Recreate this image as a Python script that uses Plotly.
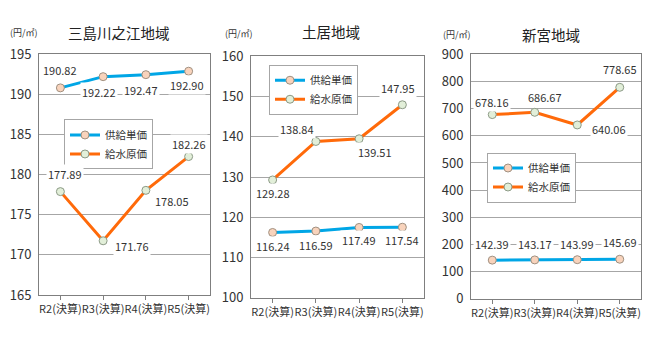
import plotly.graph_objects as go

categories = ["R2(決算)", "R3(決算)", "R4(決算)", "R5(決算)"]
series_names = ["供給単価", "給水原価"]

titles = ["三島川之江地域", "土居地域", "新宮地域"]
unit_label = "(円/㎡)"

# panel 1: 三島川之江地域
p1_supply = [190.82, 192.22, 192.47, 192.90]
p1_cost = [177.89, 171.76, 178.05, 182.26]
# panel 2: 土居地域
p2_supply = [116.24, 116.59, 117.49, 117.54]
p2_cost = [129.28, 138.84, 139.51, 147.95]
# panel 3: 新宮地域
p3_supply = [142.39, 143.17, 143.99, 145.69]
p3_cost = [678.16, 686.67, 640.06, 778.65]

y_ranges = [(165, 195, 5), (100, 160, 10), (0, 900, 100)]

# label offsets in pixels (xshift, yshift) -- style only
p1_supply_off = [(0, 18), (-4, -15), (-5, -15), (-2, -14)]
p1_cost_off = [(5, 18), (29, -5), (26, -11), (0, 13)]
p2_supply_off = [(0, -14), (0, -14), (0, -13), (0, -13)]
p2_cost_off = [(0, -13), (-19, 12), (16, -13), (-4, 17)]
p3_supply_off = [(0, 16), (0, 16), (0, 16), (0, 17)]
p3_cost_off = [(0, 13), (10, 15), (32, -4), (0, 18)]

W, H = 649, 338
FONT = "Noto Sans CJK JP, Noto Sans, sans-serif"
BLUE = "#00A6E6"
ORANGE = "#FF6A0A"

panels = [
    dict(supply=p1_supply, cost=p1_cost, soff=p1_supply_off, coff=p1_cost_off,
         xd=(39, 210), yd=(47, 302), leg=(64, 116), title_x=119, title_y=24, unit_x=24, unit_y=24),
    dict(supply=p2_supply, cost=p2_cost, soff=p2_supply_off, coff=p2_cost_off,
         xd=(251, 424), yd=(49, 305), leg=(269, 58), title_x=331, title_y=23, unit_x=239, unit_y=25),
    dict(supply=p3_supply, cost=p3_cost, soff=p3_supply_off, coff=p3_cost_off,
         xd=(471, 641), yd=(47, 306), leg=(487, 151), title_x=551, title_y=26, unit_x=457, unit_y=26),
]

fig = go.Figure()
annotations = []
layout = dict(
    width=W, height=H, margin=dict(l=0, r=0, t=0, b=0),
    paper_bgcolor="white", plot_bgcolor="white",
    font=dict(family=FONT, color="#333333"),
)

for i, p in enumerate(panels):
    n = "" if i == 0 else str(i + 1)
    xa, ya = "x" + n, "y" + n
    legname = "legend" + n
    fig.add_trace(go.Scatter(
        x=categories, y=p["supply"], name=series_names[0], mode="lines+markers",
        xaxis=xa, yaxis=ya, legend=legname,
        line=dict(color=BLUE, width=3),
        marker=dict(size=8, color="#F8D3BC", line=dict(color="#A09080", width=1)),
    ))
    fig.add_trace(go.Scatter(
        x=categories, y=p["cost"], name=series_names[1], mode="lines+markers",
        xaxis=xa, yaxis=ya, legend=legname,
        line=dict(color=ORANGE, width=3),
        marker=dict(size=8, color="#E2EFD9", line=dict(color="#8C9A86", width=1)),
    ))
    x0, x1 = p["xd"]
    y0, y1 = p["yd"]
    lo, hi, dt = y_ranges[i]
    layout["xaxis" + n] = dict(
        domain=[x0 / W, x1 / W], anchor=ya, type="category",
        range=[-0.5, 3.5], showgrid=False, showline=True, linecolor="#7F7F7F",
        linewidth=1, mirror=True, ticks="outside", ticklen=4, tickcolor="#7F7F7F",
        tickangle=0, tickfont=dict(size=11, color="#333333"), fixedrange=True,
    )
    layout["yaxis" + n] = dict(
        domain=[1 - y1 / H, 1 - y0 / H], anchor=xa, range=[lo, hi], dtick=dt,
        tick0=lo, showgrid=True, gridcolor="#A6A6A6", gridwidth=1,
        showline=True, linecolor="#7F7F7F", linewidth=1, mirror=True,
        zeroline=False, ticks="", tickfont=dict(size=13, color="#333333"),
        ticklabelstandoff=4, fixedrange=True,
    )
    lx, ly = p["leg"]
    layout[legname] = dict(
        x=lx / W, y=1 - ly / H, xanchor="left", yanchor="top",
        bgcolor="white", bordercolor="#A6A6A6", borderwidth=1,
        font=dict(size=10.5, color="#333333"), itemwidth=30, tracegroupgap=0,
    )
    # titles
    annotations.append(dict(
        text=titles[i], xref="paper", yref="paper", x=p["title_x"] / W,
        y=1 - p["title_y"] / H, showarrow=False, xanchor="center", yanchor="middle",
        font=dict(size=14.5, color="#222222"),
    ))
    annotations.append(dict(
        text=unit_label, xref="paper", yref="paper", x=p["unit_x"] / W,
        y=1 - p["unit_y"] / H, showarrow=False, xanchor="center", yanchor="middle",
        font=dict(size=9, color="#333333"),
    ))
    for vals, offs in ((p["supply"], p["soff"]), (p["cost"], p["coff"])):
        for c, v, (dx, dy) in zip(categories, vals, offs):
            annotations.append(dict(
                text=f"{v:.2f}", x=c, y=v, xref=xa, yref=ya, showarrow=False,
                xshift=dx, yshift=dy, bgcolor="white", borderpad=1,
                font=dict(size=11, color="#333333"),
            ))

layout["annotations"] = annotations
layout["showlegend"] = True
fig.update_layout(**layout)
fig.write_html("out.html")
